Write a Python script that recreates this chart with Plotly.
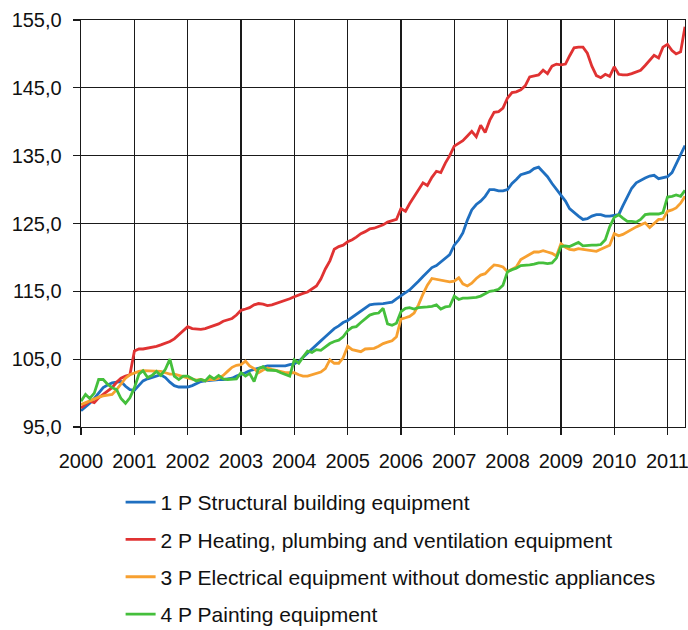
import plotly.graph_objects as go
import pandas as pd

months = pd.date_range("2000-01-01", periods=137, freq="MS")

names = [
    "1 P Structural building equipment",
    "2 P Heating, plumbing and ventilation equipment",
    "3 P Electrical equipment without domestic appliances",
    "4 P Painting equipment",
]
colors = ["#1f6fc0", "#e03232", "#f7a030", "#45bf3c"]

structural = [
    97.4, 97.9, 98.5, 99.2, 100.0, 100.8, 101.2, 101.5, 101.6, 101.7, 101.0, 100.5,
    100.4, 101.2, 101.8, 102.1, 102.3, 102.6, 102.7, 102.3, 101.6, 101.1, 100.9, 100.9,
    100.9, 101.1, 101.4, 101.7, 101.8, 101.9, 102.0, 102.0, 102.0, 102.1, 102.2, 102.5,
    102.7, 103.0, 103.3, 103.5, 103.7, 103.9, 104.0, 104.0, 104.0, 103.9, 104.0, 104.2,
    104.3, 104.7, 105.3, 105.8, 106.5, 107.1, 107.7, 108.3, 108.9, 109.5, 109.9, 110.4,
    110.7, 111.2, 111.6, 112.1, 112.6, 113.0, 113.1, 113.1, 113.2, 113.3, 113.4, 113.9,
    114.3, 114.8, 115.2, 115.8, 116.5, 117.2, 117.9, 118.5, 118.8, 119.3, 119.9, 120.4,
    121.8, 122.6, 123.6, 125.5, 127.0, 127.8, 128.3, 129.0, 130.0, 130.0, 129.8, 129.8,
    130.0, 130.9, 131.5, 132.2, 132.4, 132.6, 133.1, 133.3, 132.6, 131.9, 130.9, 130.1,
    129.3, 128.3, 127.2, 126.6, 126.1, 125.6, 125.7, 126.1, 126.3, 126.3, 126.1, 126.1,
    126.2, 126.3, 127.6, 128.9, 130.2, 131.0, 131.4, 131.7, 132.0, 132.1, 131.6, 131.8,
    131.9, 132.5, 133.8, 135.3, 136.5,
]

heating = [
    97.8, 98.3, 98.8, 98.6, 99.3, 99.8, 100.3, 100.8, 101.6, 102.2, 102.5, 102.7,
    106.2, 106.5, 106.5, 106.6, 106.7, 106.9, 107.1, 107.3, 107.6, 108.0, 108.6, 109.3,
    109.8, 109.5, 109.4, 109.4, 109.5, 109.7, 109.9, 110.2, 110.6, 110.8, 111.0, 111.5,
    112.2, 112.4, 112.6, 113.0, 113.2, 113.1, 112.9, 113.0, 113.2, 113.4, 113.6, 113.9,
    114.2, 114.5, 114.7, 114.9, 115.3, 115.8, 116.8, 118.3, 119.5, 121.2, 121.6, 121.8,
    122.3, 122.6, 123.0, 123.5, 123.8, 124.2, 124.3, 124.5, 124.8, 125.2, 125.4, 125.6,
    127.2, 126.8, 127.9, 128.9, 130.0, 131.0, 130.6, 131.8, 132.7, 132.5, 133.9, 135.0,
    136.4, 136.8, 137.2, 137.9, 138.6, 137.8, 139.5, 138.4, 140.2, 141.4, 141.5, 142.0,
    143.5, 144.3, 144.4, 144.7, 145.3, 146.6, 146.7, 146.9, 147.6, 147.1, 148.2, 148.5,
    148.4, 148.5, 149.7, 150.9, 151.0, 151.0, 150.1, 148.2, 146.8, 146.5, 147.0, 146.7,
    148.1, 147.0, 146.9, 146.9, 147.1, 147.4, 147.6, 148.3, 149.1, 149.8, 149.4, 151.0,
    151.4, 150.5, 150.0, 150.3, 154.0,
]

electrical = [
    98.3, 98.6, 98.9, 99.2, 99.4, 99.6, 99.7, 99.8, 100.5, 101.4, 102.2, 102.7,
    103.0, 103.2, 103.3, 103.3, 103.3, 103.3, 103.2, 103.0, 102.8, 102.8, 102.6, 102.5,
    102.3, 102.0, 101.9, 102.0, 101.8, 102.0, 102.0, 102.2, 102.6, 103.2, 103.8, 104.1,
    104.2, 104.7, 104.0, 103.6, 103.0, 103.4, 103.7, 103.5, 103.3, 103.1, 103.0, 103.0,
    103.0, 102.7, 102.5, 102.5, 102.7, 102.9, 103.1, 103.6, 104.9, 104.4, 104.4, 105.2,
    106.9, 106.4, 106.3, 106.1, 106.5, 106.5, 106.6, 106.9, 107.3, 107.5, 107.7, 108.3,
    110.9, 111.1, 111.3, 111.8, 113.0, 114.6, 115.9, 116.9, 116.8, 116.7, 116.6, 116.4,
    116.5, 117.0, 116.1, 115.8, 116.2, 116.9, 117.4, 117.6, 118.3, 118.9, 118.8, 118.6,
    117.9, 118.2, 118.6, 119.7, 120.1, 120.4, 120.8, 120.8, 121.0, 120.8, 120.6, 120.2,
    122.0, 121.5, 121.2, 121.1, 121.3, 121.2, 121.1, 121.0, 120.9, 121.2, 121.5, 121.8,
    123.5, 123.2, 123.4, 123.8, 124.1, 124.5, 124.8, 125.1, 124.4, 125.0, 125.6, 125.6,
    126.8, 127.0, 127.3, 128.0, 129.0,
]

painting = [
    98.8, 99.8, 99.2, 100.0, 102.0, 102.0, 101.3, 100.8, 100.5, 99.2, 98.5, 99.3,
    100.8, 102.8, 103.3, 102.3, 102.6, 103.2, 102.6, 103.5, 105.0, 102.5, 102.0, 102.5,
    102.5, 102.1, 101.8, 102.0, 101.8, 102.5, 102.1, 102.6, 102.1, 102.0, 102.0, 102.1,
    103.0, 102.5, 102.9, 101.7, 103.6, 103.9, 103.4, 103.3, 103.3, 103.0, 102.7, 102.5,
    104.9, 104.4, 105.3, 106.2, 106.0, 106.4, 106.3, 106.8, 107.3, 107.6, 107.8, 108.3,
    109.2, 109.7, 109.8, 110.4, 111.0, 111.5, 111.7, 111.8, 112.5, 110.2, 110.0, 110.3,
    112.0, 112.5, 112.6, 112.4, 112.6, 112.6, 112.7, 112.8, 113.0, 112.4, 112.7, 112.8,
    114.3, 113.8, 114.0, 114.0, 114.0, 114.1, 114.3, 114.6, 115.0, 115.1, 115.3, 115.9,
    117.9, 118.2, 118.4, 118.8, 118.8, 118.9, 119.0, 119.2, 119.2, 119.1, 119.2, 119.9,
    121.6, 121.7, 121.6, 121.9, 122.2, 121.7, 121.8, 121.8, 121.8, 121.9, 122.6, 124.5,
    125.9, 126.3, 125.8, 125.3, 125.3, 125.2, 125.6, 126.3, 126.4, 126.4, 126.4, 126.6,
    128.9, 129.0, 129.2, 129.0, 129.9,
]

series = [structural, heating, electrical, painting]

fig = go.Figure()
for i, (nm, vals, col) in enumerate(zip(names, series, colors)):
    fig.add_trace(go.Scatter(
        x=months, y=vals, mode="lines", name=nm, legendgroup=f"g{i}",
        line=dict(color=col, width=2.8),
    ))

FONT = "Liberation Sans, Arial, sans-serif"
fig.update_layout(
    width=688, height=630,
    margin=dict(l=81, r=3, t=20, b=203, autoexpand=False),
    paper_bgcolor="white", plot_bgcolor="white",
    separators=",.",
    font=dict(family=FONT, size=20, color="#111111"),
    showlegend=True,
    legend=dict(
        orientation="v", xref="container", x=0.1753, xanchor="left",
        yref="container", y=0.2349, yanchor="top",
        font=dict(family=FONT, size=21, color="#111111"),
        tracegroupgap=7, bgcolor="rgba(0,0,0,0)",
    ),
    hovermode=False,
)
fig.update_xaxes(
    type="date", range=["2000-01-01", "2011-05-01"],
    tick0="2000-01-01", dtick="M12", tickformat="%Y",
    showgrid=True, gridcolor="#1a1a1a", gridwidth=1.3,
    showline=True, linecolor="#1a1a1a", linewidth=1.3, mirror=True,
    ticks="outside", ticklen=7, tickwidth=1.3, tickcolor="#1a1a1a",
    ticklabelstandoff=9, ticklabeloverflow="allow",
    zeroline=False,
)
fig.update_yaxes(
    range=[95, 155], tick0=95, dtick=10, tickformat=".1f",
    showgrid=True, gridcolor="#1a1a1a", gridwidth=1.3,
    showline=True, linecolor="#1a1a1a", linewidth=1.3, mirror=True,
    ticks="outside", ticklen=7, tickwidth=1.3, tickcolor="#1a1a1a",
    ticklabelstandoff=7, ticklabeloverflow="allow",
    zeroline=False,
)

page_css = (
    "document.documentElement.style.margin='0';"
    "document.documentElement.style.overflow='hidden';"
    "document.body.style.margin='0';"
    "document.body.style.overflow='hidden';"
)
fig.write_html("out.html", post_script=page_css,
               config={"displayModeBar": False, "staticPlot": True})
